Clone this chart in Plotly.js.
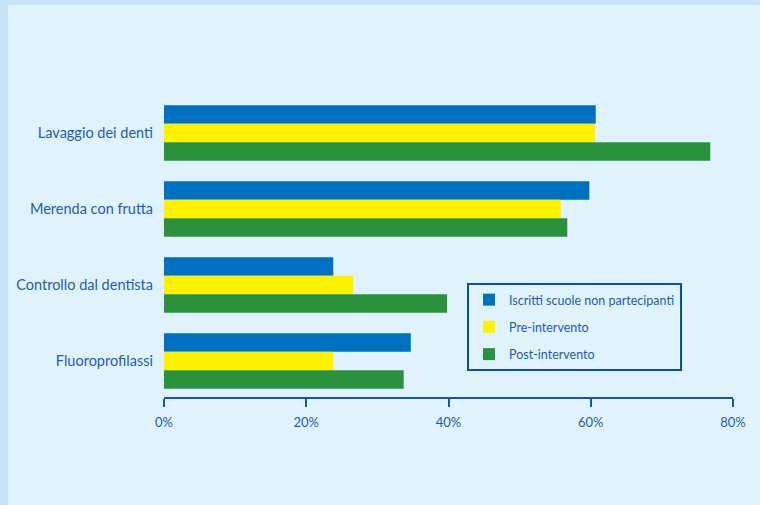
<!DOCTYPE html>
<html><head><meta charset="utf-8">
<script src="https://cdn.plot.ly/plotly-3.0.1.min.js"></script>
<style>html,body{margin:0;padding:0;background:#e0f2fc;}#chart{width:760px;height:505px;}</style>
</head><body><div id="chart"></div>
<script>
var categories = ["Lavaggio dei denti", "Merenda con frutta", "Controllo dal dentista", "Fluoroprofilassi"];
var seriesNames = ["Iscritti scuole non partecipanti", "Pre-intervento", "Post-intervento"];
var nonPartecipanti = [60.7, 59.8, 23.8, 34.7];
var preIntervento = [60.6, 55.8, 26.6, 23.8];
var postIntervento = [76.8, 56.7, 39.8, 33.7];
var tickVals = [0, 20, 40, 60, 80];
var tickText = ["0%", "20%", "40%", "60%", "80%"];

var colors = ["#0070c0", "#fff200", "#2a923c"];
var values = [nonPartecipanti, preIntervento, postIntervento];
var txtColor = "#1d5ea8";
var FONT = "Lato, 'Noto Sans', sans-serif";

var traces = values.map(function(v, i){
  return {type:"bar", orientation:"h", x:v, y:categories, name:seriesNames[i],
    marker:{color:colors[i], line:{width:0}}, legendgroup:"g"+i, hoverinfo:"x+y"};
});

var L = 164, R = 733, T = 97, B = 397;
var W = 760, H = 505;
function px(x){ return (x - L) / (R - L); }
function py(y){ return (B - y) / (B - T); }

var layout = {
  width:W, height:H,
  margin:{l:L, r:W-R, t:T, b:H-B, pad:0},
  paper_bgcolor:"#e0f2fc", plot_bgcolor:"rgba(0,0,0,0)",
  barmode:"group", bargap:0.27, bargroupgap:0,
  font:{family:FONT, color:txtColor, size:12},
  showlegend:true,
  legend:{x:px(467), y:py(283), xanchor:"left", yanchor:"top",
    bgcolor:"rgba(0,0,0,0)", bordercolor:"#0b4f9a", borderwidth:2,
    font:{family:FONT, size:12.5, color:txtColor}, traceorder:"grouped", tracegroupgap:8},
  xaxis:{range:[0,80], tickvals:tickVals, ticktext:tickText, showgrid:false, zeroline:false,
    showline:true, linecolor:"#1a55a0", linewidth:2, ticks:"outside", ticklen:8, tickwidth:2,
    tickcolor:"#1a55a0", ticklabelstandoff:4,
    tickfont:{family:FONT, size:13, color:txtColor}, fixedrange:true},
  yaxis:{type:"category", categoryorder:"array", categoryarray:categories,
    range:[3.474, -0.474], showgrid:false, zeroline:false, showline:false, ticks:"",
    ticklabelstandoff:10,
    tickfont:{family:FONT, size:14.5, color:txtColor}, fixedrange:true},
  shapes:[
    {type:"rect", xref:"paper", yref:"paper", x0:px(0), x1:px(W), y0:py(5), y1:py(0),
      fillcolor:"#c6e2f7", line:{width:0}, layer:"below"},
    {type:"rect", xref:"paper", yref:"paper", x0:px(0), x1:px(8), y0:py(H), y1:py(0),
      fillcolor:"#c6e2f7", line:{width:0}, layer:"below"}
  ]
};
Plotly.newPlot("chart", traces, layout, {displayModeBar:false, staticPlot:true});
</script></body></html>
